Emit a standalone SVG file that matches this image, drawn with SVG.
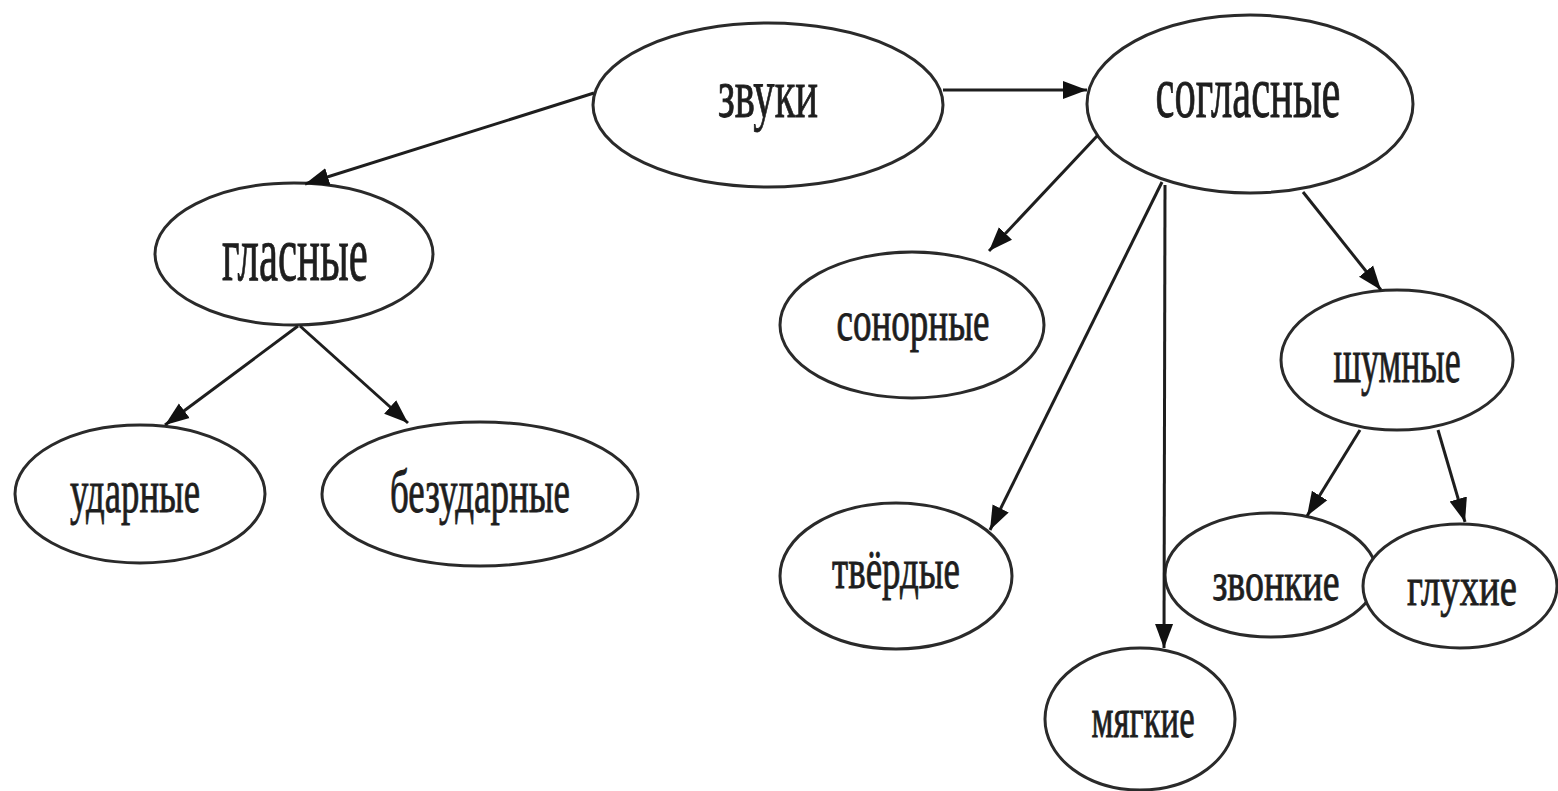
<svg xmlns="http://www.w3.org/2000/svg" width="1558" height="791" viewBox="0 0 1558 791">
<style>
.node ellipse{fill:#ffffff;stroke:#2a2a2a;stroke-width:3}
.node text{font-family:"Liberation Serif","Times New Roman",serif;fill:#1e1e1e;stroke:#1e1e1e;stroke-width:0.9;text-anchor:middle}
.edge{stroke:#1e1e1e;stroke-width:3;fill:none;marker-end:url(#arr)}
</style>
<defs>
<marker id="arr" markerUnits="userSpaceOnUse" markerWidth="26" markerHeight="22" viewBox="0 0 26 22" refX="24" refY="11" orient="auto">
<path d="M0,2 L24,11 L0,20 Z" fill="#111"/>
</marker>
</defs>
<rect width="1558" height="791" fill="#ffffff"/>

<g id="node-zvuki" class="node">
<ellipse cx="768" cy="105" rx="175" ry="82"/>
<text transform="translate(768,117) scale(0.6,1)" font-size="70" textLength="167" lengthAdjust="spacingAndGlyphs">звуки</text>
</g>
<g id="node-soglasnye" class="node">
<ellipse cx="1250" cy="104" rx="163" ry="89"/>
<text transform="translate(1248,117) scale(0.6,1)" font-size="74" textLength="308" lengthAdjust="spacingAndGlyphs">согласные</text>
</g>
<g id="node-glasnye" class="node">
<ellipse cx="294" cy="254" rx="139" ry="71"/>
<text transform="translate(295,280) scale(0.6,1)" font-size="78" textLength="243" lengthAdjust="spacingAndGlyphs">гласные</text>
</g>
<g id="node-udarnye" class="node">
<ellipse cx="140" cy="494" rx="125" ry="69"/>
<text transform="translate(135,512) scale(0.6,1)" font-size="62" textLength="217" lengthAdjust="spacingAndGlyphs">ударные</text>
</g>
<g id="node-bezudarnye" class="node">
<ellipse cx="480" cy="494" rx="158" ry="72"/>
<text transform="translate(480,512) scale(0.6,1)" font-size="62" textLength="300" lengthAdjust="spacingAndGlyphs">безударные</text>
</g>
<g id="node-sonornye" class="node">
<ellipse cx="912" cy="325" rx="132" ry="73"/>
<text transform="translate(913,340) scale(0.6,1)" font-size="58" textLength="255" lengthAdjust="spacingAndGlyphs">сонорные</text>
</g>
<g id="node-shumnye" class="node">
<ellipse cx="1397" cy="360" rx="116" ry="70"/>
<text transform="translate(1397,382) scale(0.6,1)" font-size="64" textLength="212" lengthAdjust="spacingAndGlyphs">шумные</text>
</g>
<g id="node-tverdye" class="node">
<ellipse cx="896" cy="576" rx="116" ry="73"/>
<text transform="translate(896,588) scale(0.6,1)" font-size="58" textLength="213" lengthAdjust="spacingAndGlyphs">твёрдые</text>
</g>
<g id="node-myagkie" class="node">
<ellipse cx="1140" cy="719" rx="95" ry="71"/>
<text transform="translate(1143,737) scale(0.6,1)" font-size="57" textLength="172" lengthAdjust="spacingAndGlyphs">мягкие</text>
</g>
<g id="node-zvonkie" class="node">
<ellipse cx="1271" cy="575" rx="106" ry="62"/>
<text transform="translate(1276,600) scale(0.6,1)" font-size="55" textLength="212" lengthAdjust="spacingAndGlyphs">звонкие</text>
</g>
<g id="node-glukhie" class="node">
<ellipse cx="1460" cy="586" rx="97" ry="62"/>
<text transform="translate(1462,605) scale(0.6,1)" font-size="55" textLength="183" lengthAdjust="spacingAndGlyphs">глухие</text>
</g>

<g id="connectors">
<line class="edge" x1="943" y1="90" x2="1087" y2="90"/>
<line class="edge" x1="594" y1="93" x2="305" y2="184"/>
<line class="edge" x1="298" y1="326" x2="165" y2="425"/>
<line class="edge" x1="300" y1="326" x2="408" y2="423"/>
<line class="edge" x1="1098" y1="135" x2="989" y2="251"/>
<line class="edge" x1="1162" y1="182" x2="990" y2="530"/>
<line class="edge" x1="1165" y1="185" x2="1164" y2="648"/>
<line class="edge" x1="1303" y1="192" x2="1381" y2="290"/>
<line class="edge" x1="1360" y1="430" x2="1307" y2="516"/>
<line class="edge" x1="1438" y1="430" x2="1465" y2="522"/>
</g>
</svg>
